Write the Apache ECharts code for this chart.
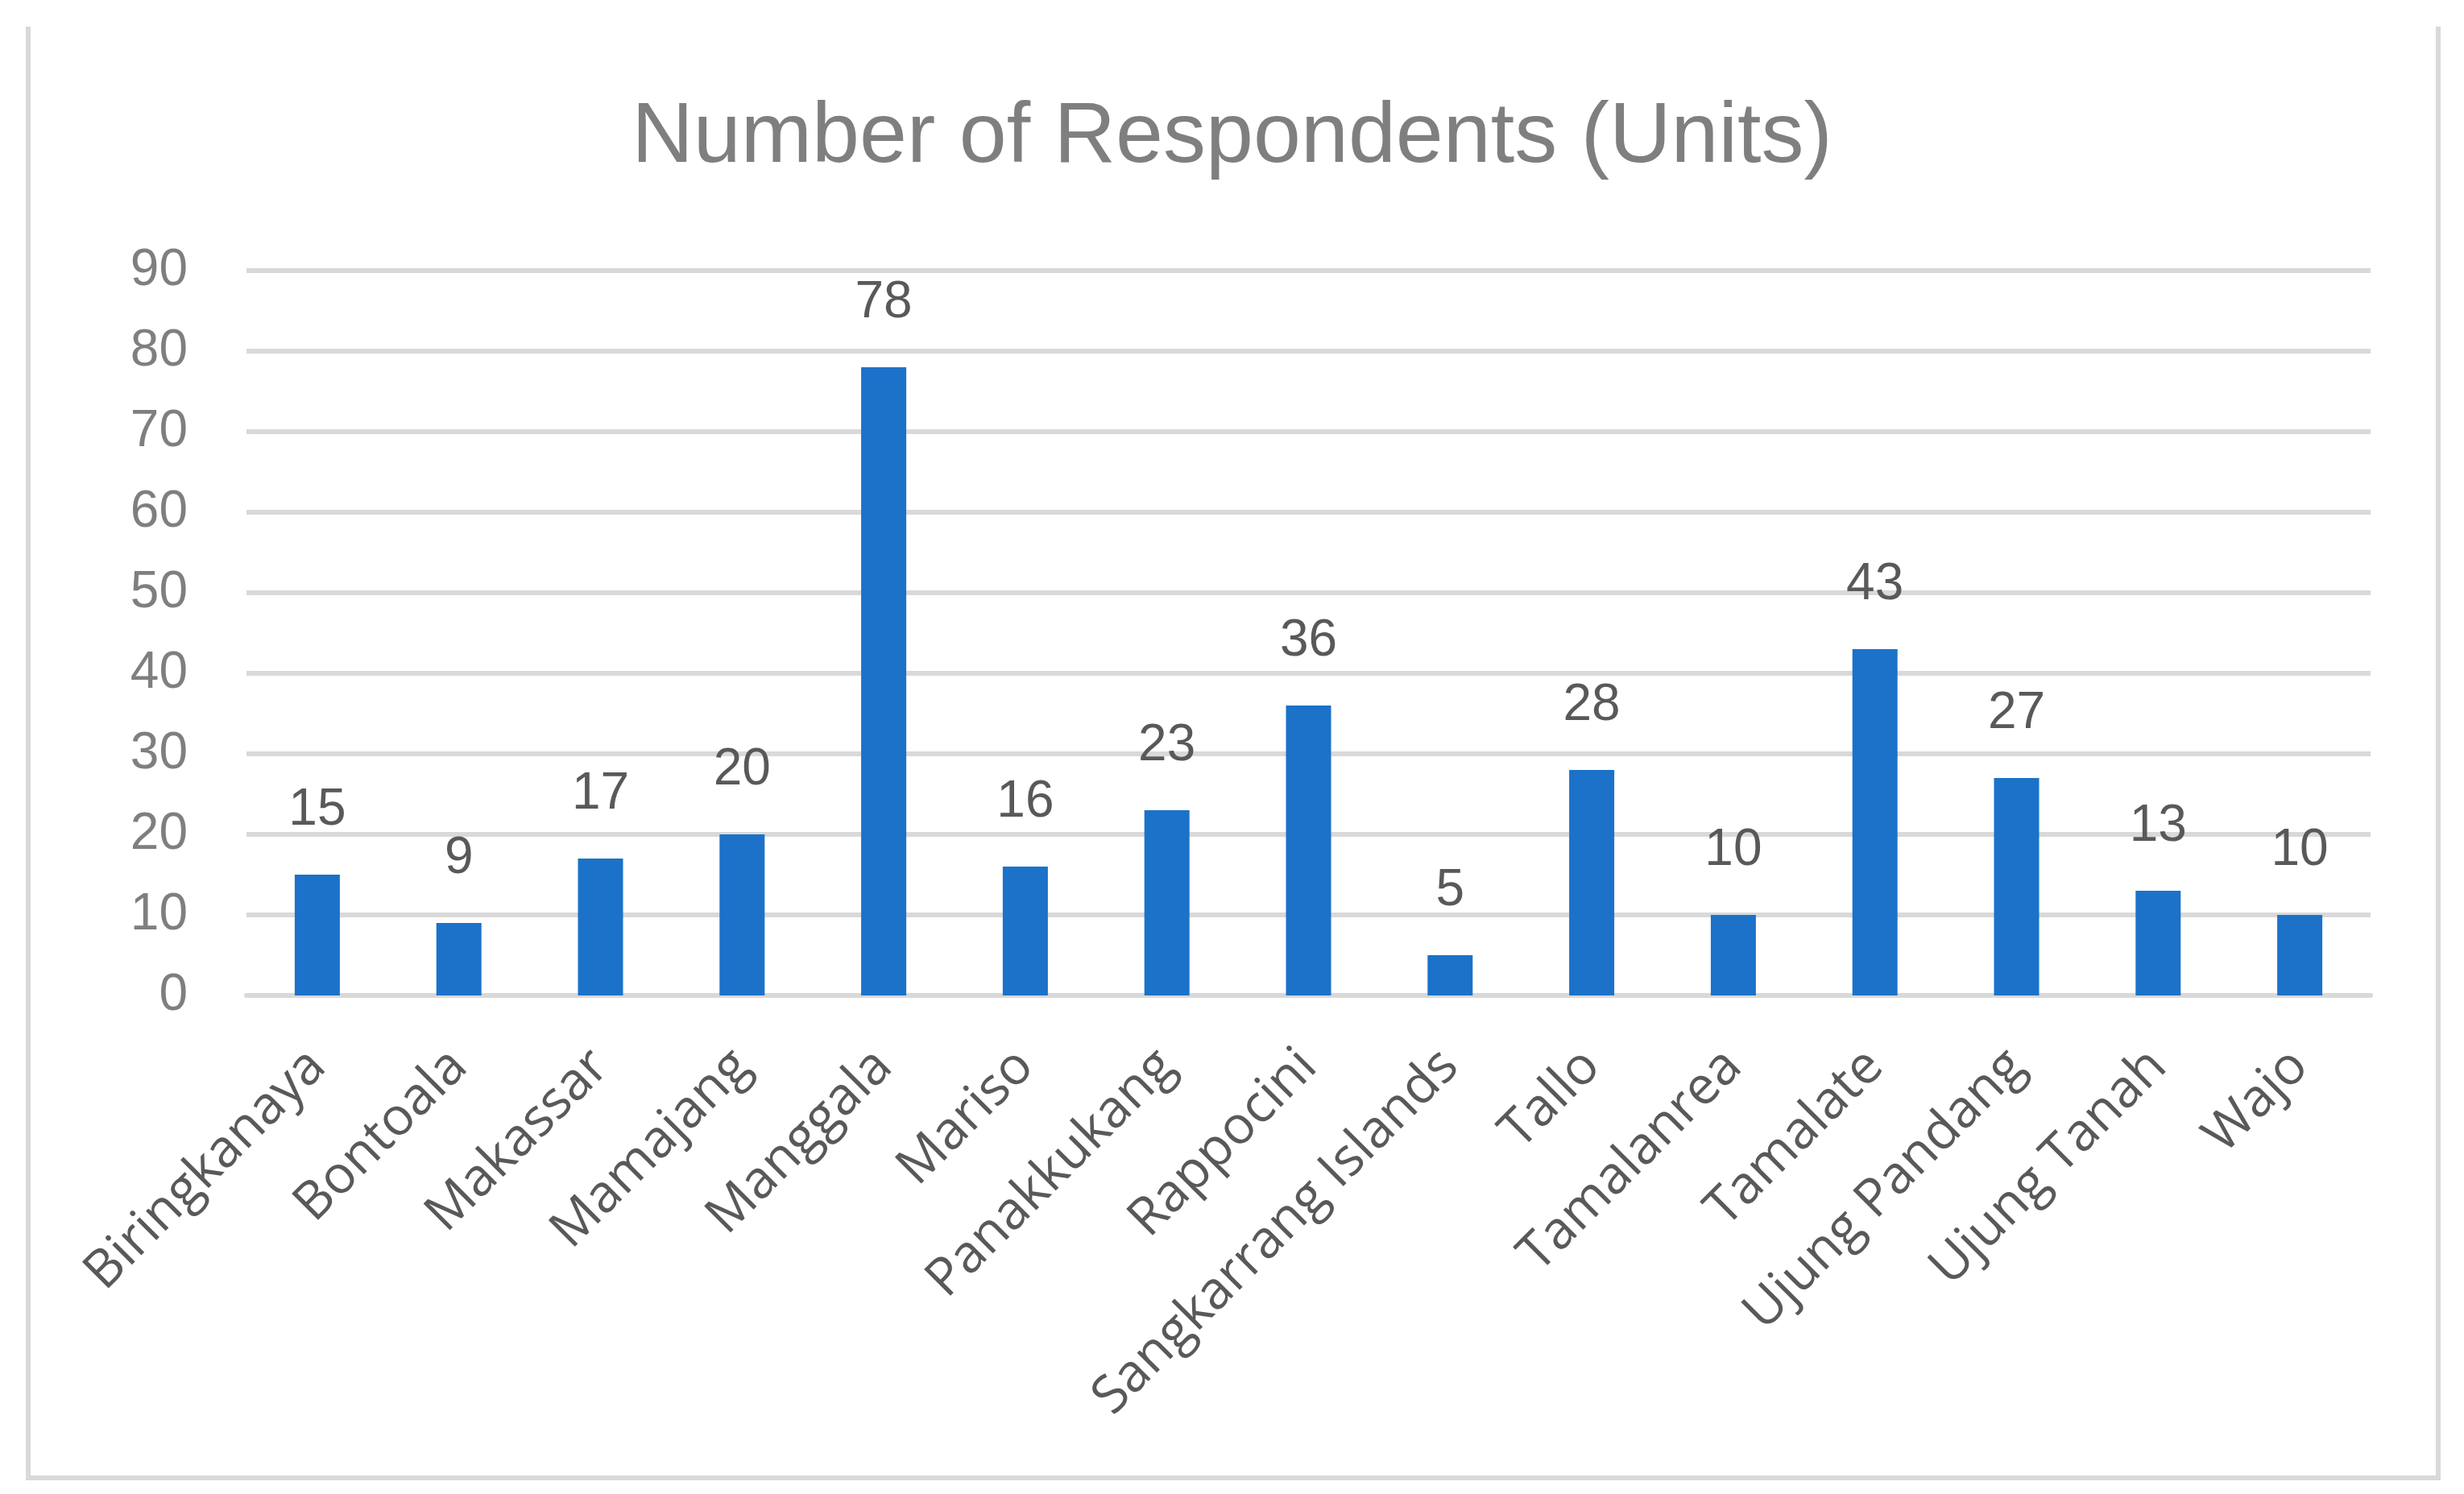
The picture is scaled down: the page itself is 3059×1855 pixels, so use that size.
<!DOCTYPE html>
<html><head><meta charset="utf-8">
<script src="https://cdn.jsdelivr.net/npm/echarts@6/dist/echarts.min.js"></script>
<style>html,body{margin:0;padding:0;background:#fff}#c{width:3059px;height:1855px}</style>
</head><body><div id="c"></div>
<script>
const categories = ["Biringkanaya","Bontoala","Makassar","Mamajang","Manggala","Mariso","Panakkukang","Rappocini","Sangkarrang Islands","Tallo","Tamalanrea","Tamalate","Ujung Pandang","Ujung Tanah","Wajo"];
const respondents = [15, 9, 17, 20, 78, 16, 23, 36, 5, 28, 10, 43, 27, 13, 10];
const titleText = "Number of Respondents (Units)";

const chart = echarts.init(document.getElementById('c'), null, {renderer:'canvas'});
chart.setOption({
  backgroundColor:'#ffffff',
  animation:false,
  title:{text:titleText,left:'center',top:114,
    textStyle:{fontFamily:'Liberation Sans',fontSize:106,fontWeight:'normal',color:'#7f7f7f'}},
  grid:{left:306,right:116,top:336,bottom:619,containLabel:false},
  xAxis:{type:'category',data:categories,
    axisLine:{lineStyle:{color:'#d9d9d9',width:6}},
    axisTick:{show:false},
    axisLabel:{rotate:45,interval:0,margin:78,fontFamily:'Open Sans',fontSize:65,color:'#595959'}},
  yAxis:{type:'value',min:0,max:90,interval:10,
    axisLine:{show:false},axisTick:{show:false},
    splitLine:{lineStyle:{color:'#d9d9d9',width:6}},
    axisLabel:{margin:73,fontFamily:'Liberation Sans',fontSize:64,color:'#7f7f7f'}},
  series:[{type:'bar',data:respondents,barWidth:56,
    itemStyle:{color:'#1b72c8'},
    label:{show:true,position:'top',distance:48,fontFamily:'Liberation Sans',fontSize:64,color:'#595959'}}],
  graphic:[{type:'polyline',shape:{points:[[35,33],[35,1835],[3027,1835],[3027,33]]},
    style:{stroke:'#d9d9d9',lineWidth:6,fill:null}}]
});
</script></body></html>
